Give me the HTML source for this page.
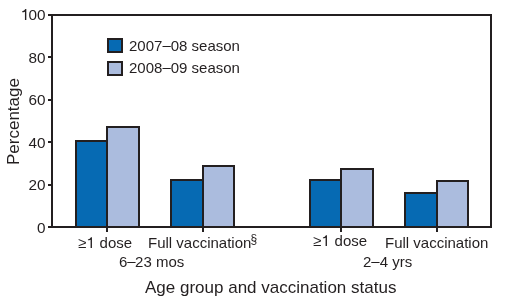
<!DOCTYPE html>
<html><head><meta charset="utf-8">
<style>
html,body{margin:0;padding:0;background:#fff;width:510px;height:301px;overflow:hidden}
svg{display:block;will-change:transform}
text{font-family:"Liberation Sans",sans-serif;fill:#231f20}
</style></head>
<body>
<svg width="510" height="301" viewBox="0 0 510 301">
<g shape-rendering="crispEdges" stroke="#231f20" stroke-width="2">
<!-- bars -->
<rect x="76" y="141" width="31" height="86" fill="#066ab3"/>
<rect x="107" y="127" width="32" height="100" fill="#abbcde"/>
<rect x="171" y="180" width="32" height="47" fill="#066ab3"/>
<rect x="203" y="166" width="31" height="61" fill="#abbcde"/>
<rect x="310" y="180" width="31" height="47" fill="#066ab3"/>
<rect x="341" y="169" width="32" height="58" fill="#abbcde"/>
<rect x="405" y="193" width="32" height="34" fill="#066ab3"/>
<rect x="437" y="181" width="31" height="46" fill="#abbcde"/>
<!-- frame -->
<rect x="52" y="15" width="439" height="212" fill="none"/>
<!-- y ticks -->
<path d="M48 15H52M48 57H52M48 100H52M48 142H52M48 185H52M48 227H52" fill="none"/>
<!-- x ticks -->
<path d="M107 227V232M203 227V232M341 227V232M437 227V232" fill="none"/>
<!-- legend boxes -->
<rect x="108" y="39" width="14" height="13" fill="#066ab3"/>
<rect x="108" y="62" width="14" height="13" fill="#abbcde"/>
</g>
<g font-size="15.3" text-anchor="end">
<text x="45.4" y="20">00</text>
<text x="45.4" y="63">80</text>
<text x="45.4" y="105">60</text>
<text x="45.4" y="148">40</text>
<text x="45.4" y="190">20</text>
<text x="45.4" y="233">0</text>
</g>
<g font-size="15">
<text x="129" y="50.5">2007<tspan dy="-0.9">–</tspan><tspan dy="0.9">08</tspan> season</text>
<text x="129" y="72.5">2008<tspan dy="-0.9">–</tspan><tspan dy="0.9">09</tspan> season</text>
<text x="78" y="248">≥</text><text x="99.6" y="248">dose</text>
<text x="148" y="248">Full vaccination<tspan font-size="12" dx="-0.8" dy="-5">§</tspan></text>
<text x="119" y="267">6<tspan dy="-0.9">–</tspan><tspan dy="0.9" dx="-0.6">23 mos</tspan></text>
<text x="313" y="246">≥</text><text x="334.6" y="246">dose</text>
<text x="385" y="248">Full vaccination</text>
<text x="363" y="267">2<tspan dy="-0.9">–</tspan><tspan dy="0.9">4 yrs</tspan></text>
</g>
<g fill="#231f20"><path transform="translate(20.5,20) scale(0.007471,-0.007471)" d="M595 0L595 1120Q420 1050 230 1045L230 1165Q520 1190 650 1466L780 1466L780 0Z"/><path transform="translate(86.23,248) scale(0.007324,-0.007324)" d="M595 0L595 1120Q420 1050 230 1045L230 1165Q520 1190 650 1466L780 1466L780 0Z"/><path transform="translate(321.23,246) scale(0.007324,-0.007324)" d="M595 0L595 1120Q420 1050 230 1045L230 1165Q520 1190 650 1466L780 1466L780 0Z"/></g>
<text x="145" y="293" font-size="17">Age group and vaccination status</text>
<text transform="translate(19,165) rotate(-90)" font-size="17">Percentage</text>
</svg>
</body></html>
